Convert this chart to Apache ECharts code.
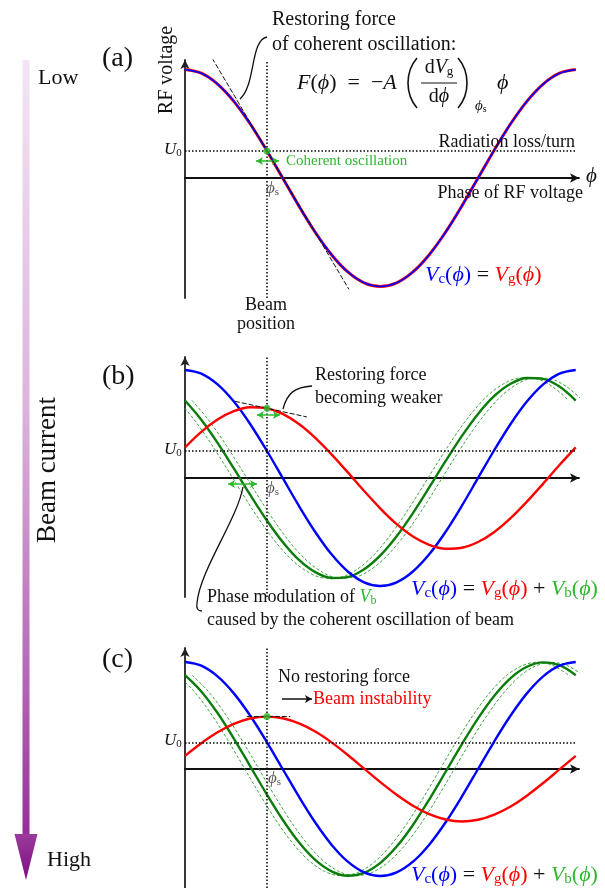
<!DOCTYPE html>
<html><head><meta charset="utf-8">
<script src="https://cdn.jsdelivr.net/npm/echarts@6/dist/echarts.min.js"></script>
<style>html,body{margin:0;padding:0;background:#fff}#c{width:605px;height:888px}</style>
</head><body><div id="c"></div>
<script>
// ---------- data (phase in degrees, voltage in units where |Vc| max = 100) ----------
const phases = [0,15,30,45,60,75,90,105,120,135,150,165,180,195,210,225,240,255,270,285,300,315,330,345,360];
const vc  = [100,96.6,86.6,70.7,50,25.9,0,-25.9,-50,-70.7,-86.6,-96.6,-100,-96.6,-86.6,-70.7,-50,-25.9,0,25.9,50,70.7,86.6,96.6,100];
const vgA = [100,96.6,86.6,70.7,50,25.9,0,-25.9,-50,-70.7,-86.6,-96.6,-100,-96.6,-86.6,-70.7,-50,-25.9,0,25.9,50,70.7,86.6,96.6,100];
const vgB = [28.3,42.7,54.1,61.9,65.5,64.6,59.3,50.0,37.2,21.9,5.2,-12.0,-28.3,-42.7,-54.1,-61.9,-65.5,-64.6,-59.3,-50.0,-37.2,-21.9,-5.2,12.0,28.3];
const vbB = [71.7,53.9,32.5,8.8,-15.5,-38.7,-59.3,-75.9,-87.2,-92.6,-91.8,-84.6,-71.7,-53.9,-32.5,-8.8,15.5,38.7,59.3,75.9,87.2,92.6,91.8,84.6,71.7];
const vgC = [12.3,24.1,34.3,42.2,47.2,49.0,47.4,42.6,35.0,24.9,13.1,0.4,-12.3,-24.1,-34.3,-42.2,-47.2,-49.0,-47.4,-42.6,-35.0,-24.9,-13.1,-0.4,12.3];
const vbC = [87.7,72.5,52.3,28.5,2.8,-23.1,-47.4,-68.5,-85.0,-95.6,-99.7,-97.0,-87.7,-72.5,-52.3,-28.5,-2.8,23.1,47.4,68.5,85.0,95.6,99.7,97.0,87.7];
const phaseModulation = 6.5;      // degrees, dashed envelopes of Vb
const phiS = 75.5;                // synchronous phase
const u0 = 25;                    // radiation loss / turn
const dotA = [[75.5, 25]];
const dotB = [[75.5, 64.5]];
const dotC = [[75.5, 49]];
const tangentA = [[25, 110.5], [151, -102.6]];
const tangentB = [[46, 71], [112.3, 56.5]];
const tangentC = [[57, 49], [97, 49]];
const greenArrowA  = [[65.4, 15.7], [86.6, 15.7]];
const greenArrowB1 = [[66.3, 58.3], [87.5, 58.3]];
const greenArrowB2 = [[39.6, -5.6], [66.3, -5.6]];
const blackArrowC  = [[89.3, 65.4], [117, 65.4]];
const yRanges = [[-110.6, 108.8], [-110.2, 112.0], [-111.2, 113.1]];

// ---------- styling ----------
const SERIF = "'Liberation Serif','DejaVu Serif',serif";
const BLUE = '#0000ff', RED = '#ff0000', DKGREEN = '#0a7d0a', GREEN = '#2db82d', LGREEN = '#2a9a2a';
const grids = [
  {left:185, top:60,  width:394, height:238},
  {left:185, top:357, width:394, height:240},
  {left:185, top:648, width:394, height:240}
];
const xAxes = grids.map((g,i)=>({type:'value', gridIndex:i, min:0, max:363,
  axisLine:{show:true, onZero:true, symbol:['none','arrow'], symbolSize:[7,9], lineStyle:{color:'#111', width:1.8}},
  axisTick:{show:false}, axisLabel:{show:false}, splitLine:{show:false}}));
const yAxes = grids.map((g,i)=>({type:'value', gridIndex:i, min:yRanges[i][0], max:yRanges[i][1],
  axisLine:{show:true, onZero:true, symbol:['none','arrow'], symbolSize:[7,9], lineStyle:{color:'#222', width:1.8}},
  axisTick:{show:false}, axisLabel:{show:false}, splitLine:{show:false}}));

function pts(xs, ys, shift){ return ys.map((v,i)=>[xs[i]+(shift||0), v]); }
function curve(gi, ys, color, width, z, opts){
  return Object.assign({type:'line', xAxisIndex:gi, yAxisIndex:gi, data:pts(phases, ys, opts&&opts.shift),
    smooth:0.33, showSymbol:false, symbol:'none', silent:true, z:z,
    lineStyle:{color:color, width:width, type:(opts&&opts.dash)||'solid'}}, (opts&&opts.extra)||{});
}
function guides(gi){
  return {silent:true, symbol:'none', label:{show:false}, animation:false,
    lineStyle:{color:'#000', type:[1.5,2], width:1.5},
    data:[{xAxis:phiS}, [{coord:[0,u0]},{coord:[360,u0]}]]};
}
function arrowsML(list, color, sym){
  return {silent:true, symbol:sym, symbolSize:[6,7], label:{show:false}, animation:false,
    lineStyle:{color:color, type:'solid', width:1.5},
    data:list.map(a=>[{coord:a[0]},{coord:a[1]}])};
}
function tangent(gi, data){
  return {type:'line', xAxisIndex:gi, yAxisIndex:gi, data:data, showSymbol:false, symbol:'none', silent:true, z:6,
    lineStyle:{color:'#111', width:1, type:[5,2]}};
}
function dot(gi, data, ml){
  const s = {type:'scatter', xAxisIndex:gi, yAxisIndex:gi, data:data, symbolSize:7, silent:true, z:8,
    itemStyle:{color:GREEN}};
  if (ml) s.markLine = ml;
  return s;
}

const series = [
  // (a)
  curve(0, vgA, RED, 3, 3),
  curve(0, vc, BLUE, 1.7, 4, {extra:{markLine:guides(0)}}),
  tangent(0, tangentA),
  dot(0, dotA, arrowsML([greenArrowA], GREEN, ['arrow','arrow'])),
  // (b)
  curve(1, vbB, LGREEN, 0.9, 2, {shift:-phaseModulation, dash:[3,2]}),
  curve(1, vbB, LGREEN, 0.9, 2, {shift: phaseModulation, dash:[3,2]}),
  curve(1, vbB, DKGREEN, 2.4, 3),
  curve(1, vc, BLUE, 2.4, 3, {extra:{markLine:guides(1)}}),
  curve(1, vgB, RED, 2.4, 4),
  tangent(1, tangentB),
  dot(1, dotB, arrowsML([greenArrowB1, greenArrowB2], GREEN, ['arrow','arrow'])),
  // (c)
  curve(2, vbC, LGREEN, 0.9, 2, {shift:-phaseModulation, dash:[3,2]}),
  curve(2, vbC, LGREEN, 0.9, 2, {shift: phaseModulation, dash:[3,2]}),
  curve(2, vbC, DKGREEN, 2.4, 3),
  curve(2, vc, BLUE, 2.4, 3, {extra:{markLine:guides(2)}}),
  curve(2, vgC, RED, 2.4, 4, {extra:{markLine:arrowsML([blackArrowC], '#111', ['none','arrow'])}}),
  tangent(2, tangentC),
  dot(2, dotC)
];

// ---------- text / annotation helpers ----------
function T(x, y, text, size, st, el){
  return Object.assign({type:'text', x:x, y:y, silent:true, z:20,
    style:Object.assign({text:text, fontSize:size, fontFamily:SERIF, fill:'#111',
      textAlign:'left', textVerticalAlign:'middle', align:'left', verticalAlign:'middle'}, st||{})}, el||{});
}
const CMAP = {k:'#111', b:BLUE, r:RED, g:GREEN, s:'#555'};
function mathRich(size){
  const r = {};
  for (const k in CMAP){
    const c = CMAP[k];
    r[k] = {fontSize:size, fontFamily:SERIF, fill:c, color:c};
    r[k+'i'] = {fontSize:size, fontFamily:SERIF, fontStyle:'italic', fill:c, color:c};
    r[k+'s'] = {fontSize:Math.round(size*0.66), fontFamily:SERIF, fill:c, color:c, padding:[Math.round(size*0.42),0,0,0]};
  }
  return r;
}
function M(x, y, text, size, align){
  return T(x, y, text, size, {rich:mathRich(size), textAlign:align||'left', align:align||'left'});
}
function bez(x1,y1,c1x,c1y,c2x,c2y,x2,y2,w){
  return {type:'bezierCurve', silent:true, z:20, shape:{x1:x1,y1:y1,cpx1:c1x,cpy1:c1y,cpx2:c2x,cpy2:c2y,x2:x2,y2:y2},
    style:{stroke:'#111', lineWidth:w||1.3, fill:null}};
}
const eqA = '{bi|V}{bs|c}{b|(}{bi|ϕ}{b|)}{k| = }{ri|V}{rs|g}{r|(}{ri|ϕ}{r|)}';
const eqBC = eqA + '{k| + }{gi|V}{gs|b}{g|(}{gi|ϕ}{g|)}';
const U0 = '{ki|U}{ks|0}';
const PHIS = '{si|ϕ}{ss|s}';

const graphics = [
  // beam current arrow
  {type:'rect', silent:true, z:1, shape:{x:22.5, y:60, width:7, height:776},
   style:{fill:new echarts.graphic.LinearGradient(0,0,0,1,[
     {offset:0,color:'#f3e5f3'},{offset:0.45,color:'#dcb3dc'},{offset:0.8,color:'#b466b6'},{offset:1,color:'#952e98'}])}},
  {type:'polygon', silent:true, z:1, shape:{points:[[14.5,834],[37.5,834],[26,880]]},
   style:{fill:new echarts.graphic.LinearGradient(0,0,0,1,[{offset:0,color:'#9a3a9c'},{offset:1,color:'#7d0f80'}])}},
  T(38, 78, 'Low', 22),
  T(47, 860, 'High', 22),
  T(48, 470, 'Beam current', 27, {textAlign:'center', align:'center'}, {rotation:Math.PI/2}),
  // panel labels
  T(102, 59, '(a)', 28), T(102, 377, '(b)', 28), T(102, 660, '(c)', 28),
  // (a)
  T(167, 70, 'RF voltage', 20, {textAlign:'center', align:'center'}, {rotation:Math.PI/2}),
  T(272, 20, 'Restoring force', 20),
  T(272, 45, 'of coherent oscillation:', 20),
  M(297, 83, '{ki|F}{k|(}{ki|ϕ}{k|)  =  −}{ki|A}', 22),
  bez(417,58, 405,72, 405,94, 417,108, 1.6),
  bez(458,58, 470,72, 470,94, 458,108, 1.6),
  M(439, 68, '{k|d}{ki|V}{ks|g}', 20, 'center'),
  {type:'line', silent:true, z:20, shape:{x1:421,y1:83,x2:457,y2:83}, style:{stroke:'#111', lineWidth:1}},
  M(439, 97, '{k|d}{ki|ϕ}', 20, 'center'),
  M(475, 106, '{ki|ϕ}{ks|s}', 15),
  M(497, 83, '{ki|ϕ}', 22),
  bez(240,99, 256,85, 250,40, 267,37),
  T(575, 142, 'Radiation loss/turn', 18, {textAlign:'right', align:'right'}),
  T(583, 193, 'Phase of RF voltage', 18, {textAlign:'right', align:'right'}),
  M(586, 176, '{ki|ϕ}', 21),
  T(286, 161, 'Coherent oscillation', 15, {fill:GREEN}),
  M(164, 150, U0, 17),
  M(266, 189, PHIS, 17),
  T(266, 305, 'Beam', 18, {textAlign:'center', align:'center'}),
  T(266, 324, 'position', 18, {textAlign:'center', align:'center'}),
  M(425, 275, eqA, 22),
  // (b)
  T(315, 375, 'Restoring force', 18),
  T(315, 398, 'becoming weaker', 18),
  bez(283,409, 287,393, 295,387, 312,386),
  M(164, 450, U0, 17),
  M(266, 489, PHIS, 17),
  bez(243,487, 237,520, 200,570, 197,603),
  bez(197,603, 196,609, 198,611, 202,611),
  M(207, 597, '{k|Phase modulation of }{gi|V}{gs|b}', 18),
  T(207, 620, 'caused by the coherent oscillation of beam', 18),
  M(411, 589, eqBC, 22),
  // (c)
  T(278, 677, 'No restoring force', 18),
  T(313, 699, 'Beam instability', 18, {fill:RED}),
  M(164, 741, U0, 17),
  M(268, 779, PHIS, 17),
  M(411, 875, eqBC, 22)
];

const chart = echarts.init(document.getElementById('c'), null, {renderer:'canvas'});
chart.setOption({
  animation:false,
  backgroundColor:'#fff',
  grid:grids,
  xAxis:xAxes,
  yAxis:yAxes,
  series:series,
  graphic:{elements:graphics}
});
</script></body></html>
